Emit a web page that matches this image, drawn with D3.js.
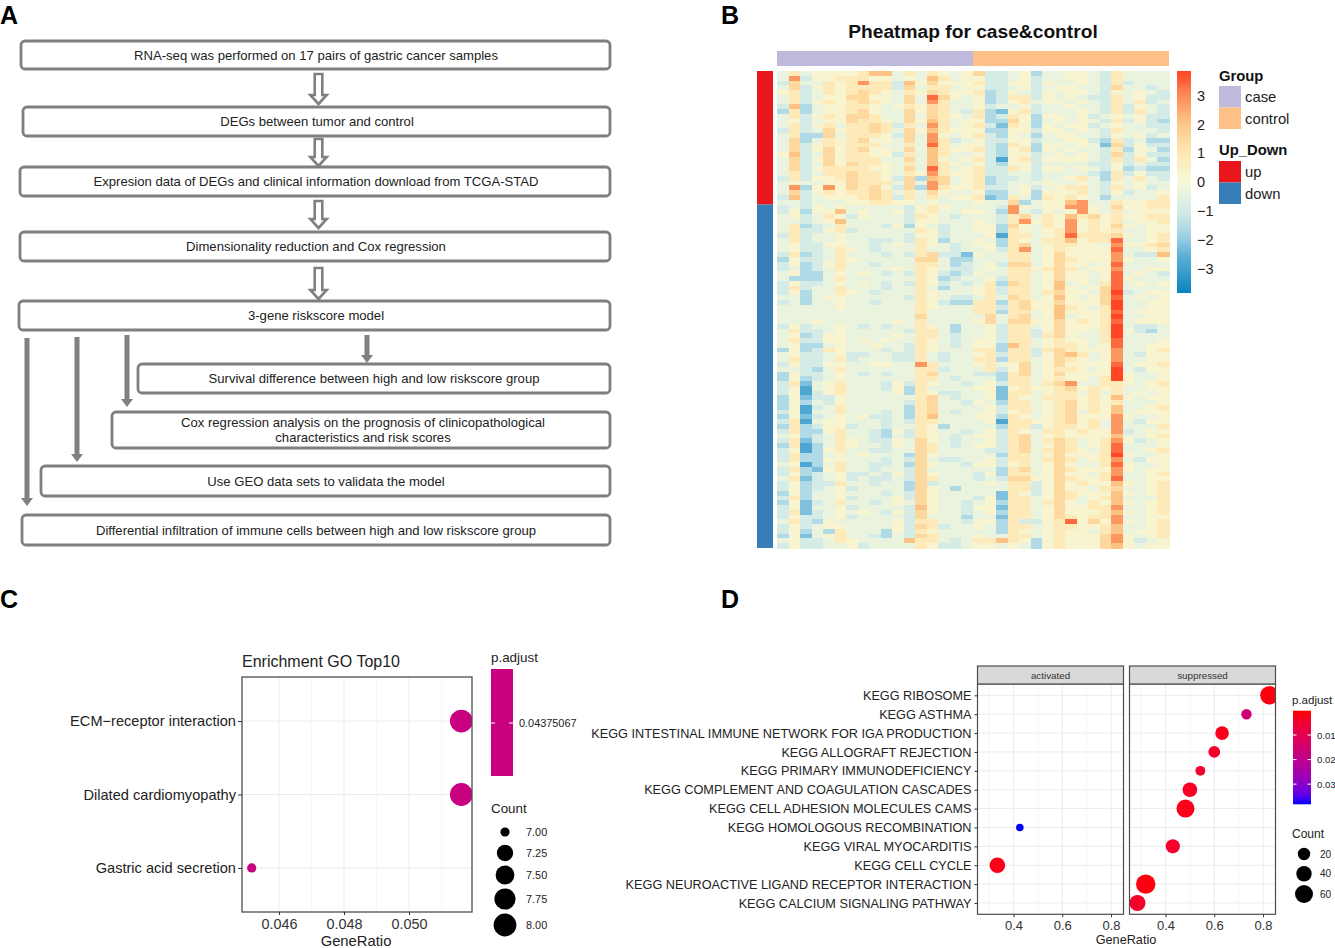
<!DOCTYPE html>
<html><head><meta charset="utf-8">
<script src="https://cdn.jsdelivr.net/npm/d3@7"></script>
<style>
html,body{margin:0;padding:0;background:#fff}
svg{display:block}
text{font-family:"Liberation Sans",Arial,sans-serif}
</style></head><body><svg id="c" width="1335" height="948"></svg>
<script>
// ---------- DATA ----------
const flowSteps = [
 ["RNA-seq was performed on 17 pairs of gastric cancer samples"],
 ["DEGs between tumor and control"],
 ["Expresion data of DEGs and clinical information download from TCGA-STAD"],
 ["Dimensionality reduction and Cox regression"],
 ["3-gene riskscore model"],
 ["Survival difference between high and low riskscore group"],
 ["Cox regression analysis on the prognosis of clinicopathological","characteristics and risk scores"],
 ["Use GEO data sets to validata the model"],
 ["Differential infiltration of immune cells between high and low riskscore group"]
];
const heatTitle = "Pheatmap for case&control";
const groupNames = ["case","control"];
const updownNames = ["up","down"];
const heatTicks = [3,2,1,0,-1,-2,-3];
// 17 case + 17 control columns; each character is a level in heatLevels
const heatLevels = {"0":-3.4,"1":-2.8,"2":-2.2,"3":-1.6,"4":-1.0,"5":-0.35,"6":0.25,"7":0.9,"8":1.5,"9":2.1,"a":2.8,"b":3.4,"c":3.85};
const upRows = [
"57566667995757656 84456355665475555","5a466777665659756 64456455665475555","4855767a774968666 74466465565474555",
"58467677774857756 64456456655485545","67457678765768766 73465465665465654","5745668866585b865 63477465654475644",
"5746767876585a755 63467566565475745","49356677656768755 64556455655474654","37356678655868754 73267455565474754",
"57467688755858765 73476366564565644","56456687765869756 63386356565474643","5746757787475a756 74276365664565544",
"47458677875869766 63366466565475554","5733857776485a656 74365356655465645","5835767866585a745 64466455664374533",
"5846767775575b756 64376366565284644","58468678665859766 74367365655473653","69458677664759755 64366456565484644",
"58468677755859656 74167466665474753","58458687765759765 64366455554464544","5846777766585b756 74476466565463433",
"5745778776576a766 74455455554374644","47466787764839856 73445455675375754","5655668777585a856 73455565565465655",
"5a36a68786483a766 74456456775475645","58467677875758655 63356366675464556","49456667874757566 72375376765355557",
"55455566776656555 655835669a5576677"];
const downRows = [
"45465655555467655 554a6566aa6586677","46366956556467556 653a54656a6575666","56457646555476545 55478576978676677",
"55456955555466555 6547a676a67675667","57345755546365455 66386576a67686566","57446745555576455 66376567a67675566",
"47455655555466455 56177567b77786567","57455655445476355 653765779677b5567","56446655456576545 663785677665a6678",
"56445765455575545 5647a5676666b5567","47345755545478442 655775686666a5449","36445765555588533 555775687666a6556",
"46346755455577534 564885686656b5555","45345755556576544 565776787566a5566","56335656545476434 655775686656b5654",
"53335755555576345 564775686656b6555","46445656545476454 573875695657b5656","47455755545575355 674775696568b5555",
"46355765455576555 674775786658c4566","55356655555476544 575875696568b5656","45355655455576433 773786686668c5566",
"55555655555576555 774786697657c5566","55555555555575555 773775696667b5666","55555555555585555 585785695667c5566",
"55565555556575555 685886686767b5666","46455654545576535 564775686667c5445","57445655555477535 564774686657c6435",
"56346655556577545 564774786557c5555","57446656565576545 664775676657b5556","56335655655476545 663975677656b5566",
"36347655545476555 773774787666a5567","56445644554475455 674774689756a5466","57445745554475455 773775687656a5566",
"464466556655a7555 675685686666b5667","55435755555577455 574685677656c5466","36445654545578555 443785686666c6556",
"36345655555577545 553775676657c6556","47256755546476554 56477578a55776567","46156755546375555 66267667867675566",
"46146755556376445 56277567757575656","36244655555578545 56276577767696566","36354655555478554 65377567867675556",
"36145755555378555 56477567867695567","46155755545378545 56467567857695666","36245656445379555 663765678666a6556",
"47156655545477555 561776678675a5466","37346645545576355 553774677675a5557","47336755436476554 564765776766a4566",
"56345755435476545 66478567666695567","47245765446586545 564785787567a6456","37135765546587545 664785687567b5556",
"46136755445587555 544785787657b5567","47335656555386555 553775686667c6556","47336655545485445 564775787567a5466",
"56135755445386554 664675686557b6556","47326755455485555 553785687666a6566","46345644546486555 463775686657a5567",
"57245645445487555 454886687667b5566","46344755455384555 56577468676696567","46345645555386535 55577468665785567",
"36355655545486555 55276468766696567","47355645556486555 46277568756795557","36245755456586554 56377578657696567",
"46255645555496554 662775686677a5567","47245656546486554 56377568666796567","46445645555485553 552775687677a5566",
"57436555556477554 66374467b686a6567","46456655556487455 65377567766795567","46353755536476555 55376567665795667",
"36256755435487555 655775676668a6567","56445765555977545 779763676668a6456","46445564555576445 66565367666896566"];
const groupCounts = [17,17];

const goTitle = "Enrichment GO Top10";
const goTerms = ["ECM\u2212receptor interaction","Dilated cardiomyopathy","Gastric acid secretion"];
const goRatio = [0.05161,0.05161,0.04516];
const goCount = [8,8,7];
const goTicks = [0.046,0.048,0.050];
const goMinor = [0.045,0.047,0.049,0.051];
const goCountLegend = [7,7.25,7.5,7.75,8];
const goPadjustLabel = "0.04375067";

const keggTerms = ["KEGG RIBOSOME","KEGG ASTHMA","KEGG INTESTINAL IMMUNE NETWORK FOR IGA PRODUCTION","KEGG ALLOGRAFT REJECTION","KEGG PRIMARY IMMUNODEFICIENCY","KEGG COMPLEMENT AND COAGULATION CASCADES","KEGG CELL ADHESION MOLECULES CAMS","KEGG HOMOLOGOUS RECOMBINATION","KEGG VIRAL MYOCARDITIS","KEGG CELL CYCLE","KEGG NEUROACTIVE LIGAND RECEPTOR INTERACTION","KEGG CALCIUM SIGNALING PATHWAY"];
const keggFacet = ["suppressed","suppressed","suppressed","suppressed","suppressed","suppressed","suppressed","activated","suppressed","activated","suppressed","suppressed"];
const keggRatio = [0.826,0.732,0.632,0.600,0.543,0.500,0.482,0.426,0.430,0.334,0.319,0.285];
const keggCount = [64,14,28,18,12,35,60,5,32,42,72,45];
const keggPadj = [0.001,0.016,0.002,0.004,0.004,0.003,0.002,0.0382,0.004,0.002,0.001,0.004];
const facets = ["activated","suppressed"];
const keggTicks = [0.4,0.6,0.8];
const keggMinor = [0.3,0.5,0.7];
const keggPTicks = [0.01,0.02,0.03];
const keggCountLegend = [20,40,60];

// ---------- HELPERS ----------
const svg = d3.select("#c");
const txt = (x,y,s,o={}) => svg.append("text").attr("x",x).attr("y",y).text(s)
  .attr("font-size",o.size||12).attr("fill",o.fill||"#1a1a1a")
  .attr("font-weight",o.weight||null).attr("text-anchor",o.anchor||"start");

[["A",0,24],["B",721,24],["C",0,608],["D",721,608]].forEach(d=>txt(d[1],d[2],d[0],{size:25,weight:"bold",fill:"#000"}));

// ---------- PANEL A ----------
const flowLayout = [
 {x0:21,x1:610,y0:41,y1:69,cx:316},{x0:23,x1:610,y0:107,y1:136,cx:317},{x0:20,x1:610,y0:167,y1:196,cx:316},
 {x0:20,x1:610,y0:232,y1:261,cx:316},{x0:19,x1:610,y0:301,y1:330,cx:316},{x0:138,x1:610,y0:364,y1:393,cx:374},
 {x0:112,x1:610,y0:412,y1:448,cx:363},{x0:41,x1:610,y0:466,y1:496,cx:326},{x0:22,x1:610,y0:515,y1:545,cx:316}];
flowLayout.forEach((b,i)=>{
  svg.append("rect").attr("x",b.x0).attr("y",b.y0).attr("width",b.x1-b.x0).attr("height",b.y1-b.y0)
    .attr("rx",4).attr("fill","#fff").attr("stroke","#7f7f7f").attr("stroke-width",2.8);
  const L=flowSteps[i], my=(b.y0+b.y1)/2;
  L.forEach((s,k)=>txt(b.cx,my+4.5+(k-(L.length-1)/2)*15,s,{size:13.1,anchor:"middle",fill:"#222"}));
});
[[74,104],[139,166],[201,228],[268,299]].forEach(([a,b])=>{
  const x=318.5,h=3.8,w=8.2;
  svg.append("path").attr("d",`M${x-h},${a}H${x+h}V${b-9}H${x+w}L${x},${b}L${x-w},${b-9}H${x-h}Z`)
   .attr("fill","#fff").attr("stroke","#808080").attr("stroke-width",2.6);
});
[[27,338,506],[77,337,462],[127,335,407],[367,335,363]].forEach(([x,a,b])=>{
  svg.append("path").attr("d",`M${x-2.5},${a}H${x+2.5}V${b-8}H${x+6}L${x},${b}L${x-6},${b-8}H${x-2.5}Z`)
   .attr("fill","#808080");
});

// ---------- PANEL B ----------
const heatColor = d3.scaleLinear()
  .domain([-3.86,-2.6,-1.8,-1,0,1,2,3,3.86])
  .range(["#0a84c0","#5aaed4","#a4d4e6","#d4ebe6","#f6f8d8","#fee8b4","#fdc98a","#fd8a58","#ff4423"]);
const decode = r => Array.from(r.replace(" ","")).map(c=>heatLevels[c]);
const heatMatrix = upRows.concat(downRows).map(decode);
const nCols = d3.sum(groupCounts);
const hx = d3.scaleBand().domain(d3.range(nCols)).range([777,1169]);
const hy = d3.scaleBand().domain(d3.range(heatMatrix.length)).range([71,548]);
const hg = svg.append("g").attr("shape-rendering","crispEdges");
heatMatrix.forEach((row,i)=>{
  hg.selectAll(null).data(row).join("rect")
    .attr("x",(d,j)=>hx(j)).attr("y",hy(i))
    .attr("width",hx.bandwidth()+.5).attr("height",hy.bandwidth()+.5)
    .attr("fill",d=>heatColor(d));
});
const groupCol=["#bfb9dc","#fdc086"], udCol=["#e9171b","#377eb8"];
const gCut = hx(groupCounts[0]);
svg.append("rect").attr("x",777).attr("y",51).attr("width",gCut-777).attr("height",15).attr("fill",groupCol[0]);
svg.append("rect").attr("x",gCut).attr("y",51).attr("width",1169-gCut).attr("height",15).attr("fill",groupCol[1]);
const uCut = hy(upRows.length);
svg.append("rect").attr("x",757).attr("y",71).attr("width",16).attr("height",uCut-71).attr("fill",udCol[0]);
svg.append("rect").attr("x",757).attr("y",uCut).attr("width",16).attr("height",548-uCut).attr("fill",udCol[1]);
txt(973,38,heatTitle,{size:19.2,weight:"bold",anchor:"middle",fill:"#111"});
// colour key
const defs = svg.append("defs");
const cbY = d3.scaleLinear().domain([3.86,-3.85]).range([71,293]);
const lgH = defs.append("linearGradient").attr("id","gh").attr("x1",0).attr("x2",0).attr("y1",0).attr("y2",1);
d3.range(0,1.001,.05).forEach(t=>lgH.append("stop").attr("offset",t).attr("stop-color",heatColor(cbY.invert(71+t*222))));
svg.append("rect").attr("x",1177).attr("y",71).attr("width",14).attr("height",222).attr("fill","url(#gh)");
heatTicks.forEach(v=>txt(1197,cbY(v)+5,v<0?"\u2212"+(-v):String(v),{size:14.5,fill:"#222"}));
txt(1219,81,"Group",{size:14.8,weight:"bold",fill:"#111"});
groupNames.forEach((n,i)=>{
  svg.append("rect").attr("x",1219).attr("y",86+i*21.5).attr("width",22).attr("height",21.5).attr("fill",groupCol[i]);
  txt(1245,102+i*21.5,n,{size:14.8,fill:"#222"});
});
txt(1219,155,"Up_Down",{size:14.8,weight:"bold",fill:"#111"});
updownNames.forEach((n,i)=>{
  svg.append("rect").attr("x",1219).attr("y",161+i*21.5).attr("width",22).attr("height",21.5).attr("fill",udCol[i]);
  txt(1245,177+i*21.5,n,{size:14.8,fill:"#222"});
});

// ---------- PANEL C ----------
const PC={l:242,r:472,t:677,b:912};
const cx=d3.scaleLinear().domain([0.046,0.050]).range([279,409]);
const cy=d3.scalePoint().domain(goTerms).range([PC.t,PC.b]).padding(0.6);
const cr=d3.scaleLinear().domain([7,7.25,7.5,7.75,8]).range([4.6,8.2,9.4,10.6,11.4]);
const magenta="#c9007f";
const gc=svg.append("g");
goMinor.forEach(v=>gc.append("line").attr("x1",cx(v)).attr("x2",cx(v)).attr("y1",PC.t).attr("y2",PC.b).attr("stroke","#f3f3f3").attr("stroke-width",.7));
goTicks.forEach(v=>gc.append("line").attr("x1",cx(v)).attr("x2",cx(v)).attr("y1",PC.t).attr("y2",PC.b).attr("stroke","#ebebeb").attr("stroke-width",1));
goTerms.forEach(t=>gc.append("line").attr("x1",PC.l).attr("x2",PC.r).attr("y1",cy(t)).attr("y2",cy(t)).attr("stroke","#ebebeb").attr("stroke-width",1));
defs.append("clipPath").attr("id","clipC").append("rect").attr("x",PC.l).attr("y",PC.t).attr("width",PC.r-PC.l).attr("height",PC.b-PC.t);
gc.append("g").attr("clip-path","url(#clipC)").selectAll("circle").data(goTerms).join("circle")
  .attr("cx",(d,i)=>cx(goRatio[i])).attr("cy",d=>cy(d)).attr("r",(d,i)=>cr(goCount[i])).attr("fill",magenta);
gc.append("rect").attr("x",PC.l).attr("y",PC.t).attr("width",PC.r-PC.l).attr("height",PC.b-PC.t).attr("fill","none").attr("stroke","#4d4d4d").attr("stroke-width",1.3);
const axC=gc.append("g").attr("transform",`translate(0,${PC.b})`).call(d3.axisBottom(cx).tickValues(goTicks).tickFormat(d3.format(".3f")).tickSize(3).tickPadding(4));
axC.select(".domain").remove();
axC.selectAll("text").attr("font-size",14.4).attr("font-family","Liberation Sans").attr("fill","#333");
axC.selectAll("line").attr("stroke","#333");
const ayC=gc.append("g").attr("transform",`translate(${PC.l},0)`).call(d3.axisLeft(cy).tickSize(4).tickPadding(2));
ayC.select(".domain").remove();
ayC.selectAll("text").attr("font-size",14.6).attr("font-family","Liberation Sans").attr("fill","#222");
ayC.selectAll("line").attr("stroke","#333");
txt(242,667,goTitle,{size:16,fill:"#222"});
txt(356,946,"GeneRatio",{size:14.8,anchor:"middle",fill:"#222"});
txt(491,662,"p.adjust",{size:13.4,fill:"#222"});
svg.append("rect").attr("x",491).attr("y",669).attr("width",22).attr("height",107).attr("fill",magenta);
svg.append("line").attr("x1",491).attr("x2",495).attr("y1",723).attr("y2",723).attr("stroke","#fff");
svg.append("line").attr("x1",509).attr("x2",513).attr("y1",723).attr("y2",723).attr("stroke","#fff");
txt(519,727,goPadjustLabel,{size:10.9,fill:"#222"});
txt(491,813,"Count",{size:13.4,fill:"#222"});
const goLegY=d3.scaleOrdinal().domain(goCountLegend).range([832,853,875,899,925]);
goCountLegend.forEach(v=>{
  svg.append("circle").attr("cx",505).attr("cy",goLegY(v)).attr("r",cr(v)).attr("fill","#000");
  txt(526,goLegY(v)+4,d3.format(".2f")(v),{size:10.9,fill:"#222"});
});

// ---------- PANEL D ----------
const PD={t:684,b:914.3,stripT:666};
const pans={activated:[977.5,1123.5],suppressed:[1129.5,1275.5]};
const dRange=[0.2525,0.851];
const dx={};
facets.forEach(f=>dx[f]=d3.scaleLinear().domain(dRange).range(pans[f]));
const dy=d3.scalePoint().domain(keggTerms).range([PD.t,PD.b]).padding(0.6);
const dr=d3.scaleLinear().domain([5,20,40,60,75]).range([3.8,6.2,7.7,9,9.9]);
const dc=d3.scaleLinear().domain([0.0001,0.0382]).range([0,1]);
const dColor=p=>d3.interpolateLab("#ff0000","#0000ff")(Math.max(0,Math.min(1,dc(p))));
const gd=svg.append("g");
facets.forEach(f=>{
  const X=dx[f],[l,r]=pans[f];
  keggMinor.forEach(v=>gd.append("line").attr("x1",X(v)).attr("x2",X(v)).attr("y1",PD.t).attr("y2",PD.b).attr("stroke","#f3f3f3").attr("stroke-width",.7));
  keggTicks.forEach(v=>gd.append("line").attr("x1",X(v)).attr("x2",X(v)).attr("y1",PD.t).attr("y2",PD.b).attr("stroke","#ebebeb"));
  keggTerms.forEach(t=>gd.append("line").attr("x1",l).attr("x2",r).attr("y1",dy(t)).attr("y2",dy(t)).attr("stroke","#ebebeb"));
  defs.append("clipPath").attr("id","clip"+f).append("rect").attr("x",l).attr("y",PD.t).attr("width",r-l).attr("height",PD.b-PD.t);
  gd.append("g").attr("clip-path",`url(#clip${f})`).selectAll("circle")
    .data(keggTerms.map((t,i)=>i).filter(i=>keggFacet[i]===f)).join("circle")
    .attr("cx",i=>X(keggRatio[i])).attr("cy",i=>dy(keggTerms[i])).attr("r",i=>dr(keggCount[i])).attr("fill",i=>dColor(keggPadj[i]));
  gd.append("rect").attr("x",l).attr("y",PD.t).attr("width",r-l).attr("height",PD.b-PD.t).attr("fill","none").attr("stroke","#4d4d4d").attr("stroke-width",1.2);
  gd.append("rect").attr("x",l).attr("y",PD.stripT).attr("width",r-l).attr("height",PD.t-PD.stripT).attr("fill","#d9d9d9").attr("stroke","#4d4d4d").attr("stroke-width",1.2);
  txt((l+r)/2,678.5,f,{size:9.8,anchor:"middle",fill:"#333"});
  const ax=gd.append("g").attr("transform",`translate(0,${PD.b})`).call(d3.axisBottom(X).tickValues(keggTicks).tickFormat(d3.format(".1f")).tickSize(3).tickPadding(3));
  ax.select(".domain").remove();
  ax.selectAll("text").attr("font-size",13).attr("font-family","Liberation Sans").attr("fill","#333");
  ax.selectAll("line").attr("stroke","#333");
});
const ayD=gd.append("g").attr("transform",`translate(${pans.activated[0]},0)`).call(d3.axisLeft(dy).tickSize(3).tickPadding(3));
ayD.select(".domain").remove();
ayD.selectAll("text").attr("font-size",12.7).attr("font-family","Liberation Sans").attr("fill","#222");
ayD.selectAll("line").attr("stroke","#333");
txt(1126,944,"GeneRatio",{size:12.7,anchor:"middle",fill:"#222"});
txt(1292,704,"p.adjust",{size:11.5,fill:"#222"});
const pb=d3.scaleLinear().domain([0.0001,0.0382]).range([710.7,804.3]);
const lgD=defs.append("linearGradient").attr("id","gd").attr("x1",0).attr("x2",0).attr("y1",0).attr("y2",1);
d3.range(0,1.001,.1).forEach(t=>lgD.append("stop").attr("offset",t).attr("stop-color",d3.interpolateLab("#ff0000","#0000ff")(t)));
svg.append("rect").attr("x",1293).attr("y",710.7).attr("width",18).attr("height",93.6).attr("fill","url(#gd)");
keggPTicks.forEach(v=>{
  [[1293,1296.5],[1307.5,1311]].forEach(([a,b])=>svg.append("line").attr("x1",a).attr("x2",b).attr("y1",pb(v)).attr("y2",pb(v)).attr("stroke","#fff"));
  txt(1317,pb(v)+3.5,String(v),{size:9.6,fill:"#222"});
});
txt(1292,838,"Count",{size:12,fill:"#222"});
const dLegY=d3.scaleOrdinal().domain(keggCountLegend).range([854,873.7,894]);
keggCountLegend.forEach(v=>{
  svg.append("circle").attr("cx",1304).attr("cy",dLegY(v)).attr("r",dr(v)).attr("fill","#000");
  txt(1320,dLegY(v)+3.5,String(v),{size:10,fill:"#222"});
});
</script></body></html>
